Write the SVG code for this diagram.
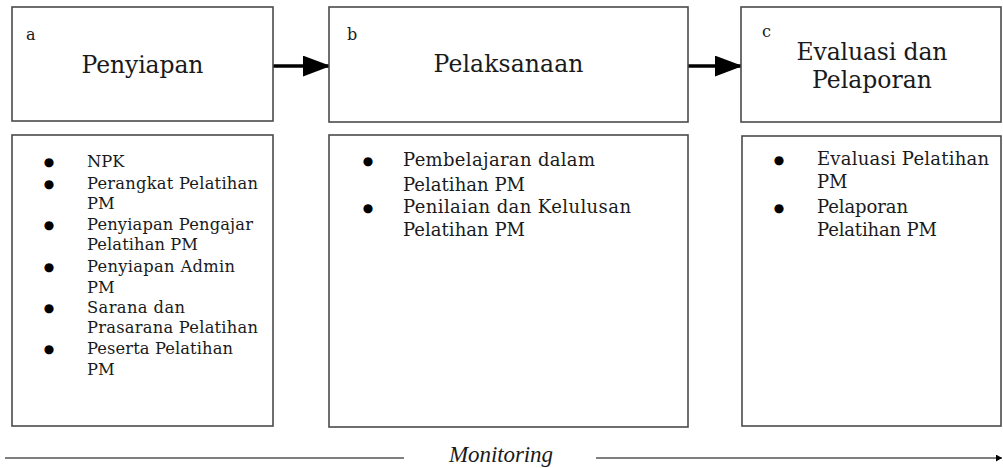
<svg xmlns="http://www.w3.org/2000/svg" width="1003" height="468" viewBox="0 0 1003 468">
<defs>
<style>
.box{fill:#fff;stroke:#4a4a4a;stroke-width:1.6}
.t{font-family:"DejaVu Serif","Liberation Serif",serif;fill:#1a1a1a}
.h{font-size:23.5px;text-anchor:middle}
.l{font-size:16px}
.a{font-size:16.3px}
.b{font-size:18px}
.dot{font-family:"DejaVu Sans",sans-serif;font-size:12px;text-anchor:middle;fill:#000}
.m{font-family:"Liberation Serif",serif;font-style:italic;font-size:23px;fill:#1a1a1a}
.conn{stroke:#000;stroke-width:3.5;fill:none}
.mon{stroke:#555;stroke-width:1.6;fill:none}
</style>
<marker id="ah" markerWidth="8" markerHeight="6" refX="7.5" refY="3" orient="auto" markerUnits="strokeWidth"><path d="M0,0 L8,3 L0,6 z" fill="#000"/></marker>
<marker id="ah2" markerWidth="6" markerHeight="7" refX="6" refY="3.5" orient="auto" markerUnits="userSpaceOnUse"><path d="M0,0 L6,3.5 L0,7 z" fill="#000"/></marker>
</defs>
<g id="connectors">
<path class="conn" d="M273,66 L329,66" marker-end="url(#ah)"/>
<path class="conn" d="M688,66 L741,66" marker-end="url(#ah)"/>
<path class="mon" d="M5,458 L404,458"/>
<path class="mon" d="M596,458 L1002,458" marker-end="url(#ah2)"/>
</g>
<g id="node-a">
<rect class="box" x="12" y="7" width="261" height="114"/>
<text class="t l" x="26" y="40">a</text>
<text class="t h" x="142.5" y="73" textLength="122">Penyiapan</text>
</g>
<g id="node-b">
<rect class="box" x="329" y="7" width="359" height="115"/>
<text class="t l" x="347" y="40">b</text>
<text class="t h" x="508.5" y="72" textLength="150">Pelaksanaan</text>
</g>
<g id="node-c">
<rect class="box" x="741" y="7" width="260" height="115"/>
<text class="t l" x="762" y="37">c</text>
<text class="t h" x="872" y="60" textLength="151">Evaluasi dan</text>
<text class="t h" x="872" y="88">Pelaporan</text>
</g>
<g id="list-a">
<rect class="box" x="12" y="135" width="261" height="291"/>
<g class="dot">
<text x="49" y="166">●</text>
<text x="49" y="188">●</text>
<text x="49" y="229">●</text>
<text x="49" y="271">●</text>
<text x="49" y="312">●</text>
<text x="49" y="353">●</text>
</g>
<g class="t a">
<text x="87" y="167">NPK</text>
<text x="87" y="189" textLength="171">Perangkat Pelatihan</text>
<text x="87" y="209">PM</text>
<text x="87" y="230" textLength="166">Penyiapan Pengajar</text>
<text x="87" y="250" textLength="111">Pelatihan PM</text>
<text x="87" y="272" textLength="148">Penyiapan Admin</text>
<text x="87" y="293">PM</text>
<text x="87" y="313" textLength="98">Sarana dan</text>
<text x="87" y="333" textLength="171">Prasarana Pelatihan</text>
<text x="87" y="354" textLength="146">Peserta Pelatihan</text>
<text x="87" y="375">PM</text>
</g>
</g>
<g id="list-b">
<rect class="box" x="329" y="135" width="359" height="292"/>
<g class="dot">
<text x="368" y="165">●</text>
<text x="368" y="212">●</text>
</g>
<g class="t b">
<text x="403" y="166" textLength="192">Pembelajaran dalam</text>
<text x="403" y="191" textLength="122">Pelatihan PM</text>
<text x="403" y="213" textLength="228">Penilaian dan Kelulusan</text>
<text x="403" y="236" textLength="122">Pelatihan PM</text>
</g>
</g>
<g id="list-c">
<rect class="box" x="742" y="136" width="259" height="290"/>
<g class="dot">
<text x="779" y="164">●</text>
<text x="779" y="212">●</text>
</g>
<g class="t b">
<text x="817" y="165" textLength="172">Evaluasi Pelatihan</text>
<text x="817" y="188">PM</text>
<text x="817" y="213" textLength="91">Pelaporan</text>
<text x="817" y="236" textLength="120">Pelatihan PM</text>
</g>
</g>
<g id="monitoring">
<text class="m" x="449" y="462" textLength="104">Monitoring</text>
</g>
</svg>
